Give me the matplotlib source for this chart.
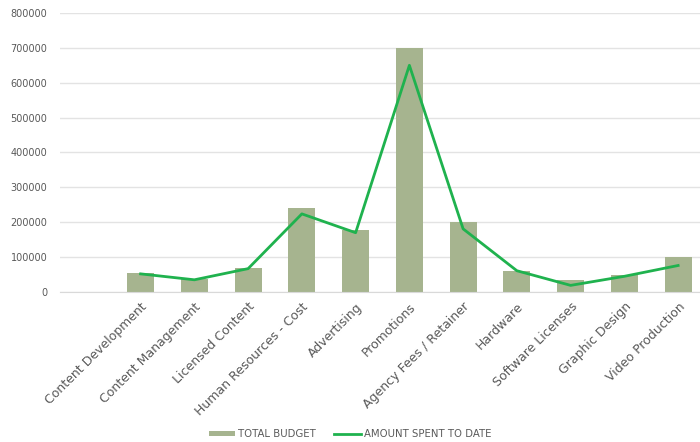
import matplotlib
matplotlib.use("Agg")
import matplotlib.pyplot as plt
import numpy as np

# Dữ liệu
categories = ["Content Development", "Content Management", "Licensed Content",
              "Human Resources - Cost", "Advertising", "Promotions",
              "Agency Fees / Retainer", "Hardware", "Software Licenses",
              "Graphic Design", "Video Production"]
total_budget = [55000, 37000, 70000, 240000, 178000, 700000,
                200000, 60000, 35000, 50000, 100000]
amount_spent = [52000, 35000, 67000, 224000, 170000, 650000,
                181000, 61000, 19000, 45000, 76000]
y_ticks = [0, 100000, 200000, 300000, 400000, 500000, 600000, 700000, 800000]

plt.rcParams['font.family'] = ['DejaVu Sans']

fig = plt.figure(figsize=(7, 4.42), dpi=100)
ax = fig.add_axes([60 / 700, 150 / 442, 645 / 700, 279 / 442])

x = np.arange(1, len(categories) + 1)  # vị trí 0 để trống như trong biểu đồ gốc
bars = ax.bar(x, total_budget, width=0.5, color='#a6b48f', label='TOTAL BUDGET', zorder=2)
line, = ax.plot(x, amount_spent, color='#1fb24e', linewidth=2, label='AMOUNT SPENT TO DATE', zorder=3)

ax.set_xlim(-0.5, len(categories) + 0.5)
ax.set_ylim(0, 800000)
ax.set_yticks(y_ticks)
ax.set_yticklabels([str(v) for v in y_ticks])
ax.yaxis.grid(True, color='#e3e3e3', linewidth=1, zorder=0)
ax.set_axisbelow(True)

ax.set_xticks(x)
ax.set_xticklabels(categories, rotation=45, ha='right', rotation_mode='anchor')
ax.tick_params(axis='both', length=0, colors='#595959')
ax.tick_params(axis='y', labelsize=7, pad=9)
ax.tick_params(axis='x', labelsize=9, pad=6)

for s in ['top', 'right', 'left']:
    ax.spines[s].set_visible(False)
ax.spines['bottom'].set_color('#d9d9d9')

leg = fig.legend([bars, line], ['TOTAL BUDGET', 'AMOUNT SPENT TO DATE'],
                 loc='lower center', bbox_to_anchor=(0.5, -0.014), ncol=2, frameon=False,
                 fontsize=7.3, handlelength=2.6, handleheight=0.5, columnspacing=1.8,
                 handletextpad=0.3)
for t in leg.get_texts():
    t.set_color('#595959')

fig.savefig('out.png', dpi=100)
